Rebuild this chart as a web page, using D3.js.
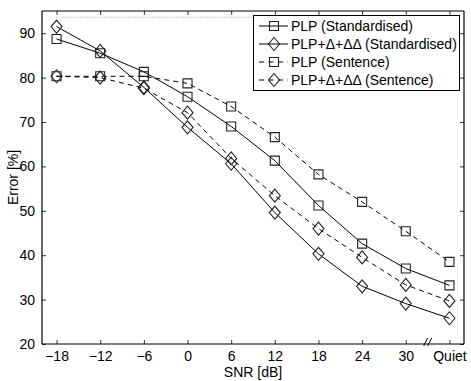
<!DOCTYPE html>
<html>
<head>
<meta charset="utf-8">
<script src="https://cdn.jsdelivr.net/npm/d3@7"></script>
<style>
  body { margin: 0; background: #fff; }
  text { font-family: "Liberation Sans", Arial, sans-serif; fill: #000; }
</style>
</head>
<body>
<script>
// SNR conditions (Quiet drawn at 36 dB, after the axis break)
const snrLabels = ["\u221218", "\u221212", "\u22126", "0", "6", "12", "18", "24", "30", "Quiet"];
const snrPos = [-18, -12, -6, 0, 6, 12, 18, 24, 30, 36];

const plpStd = [88.7, 85.5, 81.3, 75.7, 69.0, 61.3, 51.2, 42.6, 37.0, 33.2];
const plpDStd = [91.5, 86.0, 77.8, 68.8, 60.6, 49.6, 40.3, 33.0, 29.1, 25.8];
const plpSent = [80.3, 80.3, 80.3, 78.7, 73.5, 66.6, 58.2, 52.0, 45.4, 38.5];
const plpDSent = [80.3, 80.0, 77.6, 72.1, 61.8, 53.4, 46.0, 39.5, 33.3, 29.7];

const yTicks = [20, 30, 40, 50, 60, 70, 80, 90];
const refLevel = 93.6; // dotted reference line

const series = [
  { name: "PLP (Standardised)", values: plpStd, marker: "square", dash: null },
  { name: "PLP+\u0394+\u0394\u0394 (Standardised)", values: plpDStd, marker: "diamond", dash: null },
  { name: "PLP (Sentence)", values: plpSent, marker: "square", dash: "5,4" },
  { name: "PLP+\u0394+\u0394\u0394 (Sentence)", values: plpDSent, marker: "diamond", dash: "5,4" }
];

const W = 471, H = 381;
const mLeft = 42, mRight = 464, mTop = 11, mBottom = 344;

const x = d3.scaleLinear().domain([-20, 38]).range([mLeft, mRight]);
const y = d3.scaleLinear().domain([20, 95]).range([mBottom, mTop]);

const svg = d3.select("body").append("svg").attr("width", W).attr("height", H);

// dotted reference line
svg.append("line")
  .attr("x1", x(-18)).attr("x2", x(36))
  .attr("y1", y(refLevel)).attr("y2", y(refLevel))
  .attr("stroke", "#999").attr("stroke-width", 1).attr("stroke-dasharray", "1,2");

function markerPath(type) {
  if (type === "square") return "M-4.5,-4.5H4.5V4.5H-4.5Z";
  return "M0,-6.5L5.5,0L0,6.5L-5.5,0Z";
}

const line = d3.line().x((d, i) => x(snrPos[i])).y(d => y(d));

series.forEach(s => {
  svg.append("path")
    .attr("d", line(s.values))
    .attr("fill", "none")
    .attr("stroke", "#000")
    .attr("stroke-width", 1)
    .attr("stroke-dasharray", s.dash);
  svg.selectAll(null)
    .data(s.values)
    .enter()
    .append("path")
    .attr("d", markerPath(s.marker))
    .attr("transform", (d, i) => `translate(${x(snrPos[i])},${y(d)})`)
    .attr("fill", "none")
    .attr("stroke", "#222")
    .attr("stroke-width", 1.1);
});

// axes box with inward ticks on all sides
const xAxis = d3.axisBottom(x).tickValues(snrPos).tickSize(-4).tickFormat((d, i) => snrLabels[i]).tickPadding(7);
const xTop = d3.axisTop(x).tickValues(snrPos).tickSize(-4).tickFormat("");
const yAxis = d3.axisLeft(y).tickValues(yTicks).tickSize(-4).tickPadding(7);
const yRight = d3.axisRight(y).tickValues(yTicks).tickSize(-4).tickFormat("");

function styleAxis(g) {
  g.select(".domain").attr("stroke", "#000").attr("stroke-width", 1.2);
  g.selectAll(".tick line").attr("stroke", "#000").attr("stroke-width", 0.8);
  g.selectAll("text").style("font-size", "14px").attr("font-family", null);
}

svg.append("g").attr("transform", `translate(0,${mBottom})`).call(xAxis).call(g => {
  g.select(".domain").attr("d", `M${mLeft},0H${mRight}`);
  styleAxis(g);
});
svg.append("g").attr("transform", `translate(0,${mTop})`).call(xTop).call(g => {
  g.select(".domain").attr("d", `M${mLeft},0H${mRight}`);
  styleAxis(g);
});
svg.append("g").attr("transform", `translate(${mLeft},0)`).call(yAxis).call(g => {
  g.select(".domain").attr("d", `M0,${mTop}V${mBottom}`);
  styleAxis(g);
});
svg.append("g").attr("transform", `translate(${mRight},0)`).call(yRight).call(g => {
  g.select(".domain").attr("d", `M0,${mTop}V${mBottom}`);
  styleAxis(g);
});

// axis break mark between 30 and Quiet
const bx = x(33);
[-2, 2].forEach(o => {
  svg.append("line")
    .attr("x1", bx + o - 2).attr("y1", mBottom + 2)
    .attr("x2", bx + o + 2).attr("y2", mBottom - 6)
    .attr("stroke", "#000").attr("stroke-width", 1);
});

// axis labels
svg.append("text")
  .attr("x", (mLeft + mRight) / 2).attr("y", 377)
  .attr("text-anchor", "middle").style("font-size", "14px")
  .text("SNR [dB]");
svg.append("text")
  .attr("transform", `translate(18,${(mTop + mBottom) / 2}) rotate(-90)`)
  .attr("text-anchor", "middle").style("font-size", "14px")
  .text("Error [%]");

// legend
const lg = svg.append("g");
lg.append("rect")
  .attr("x", 253.5).attr("y", 15.5).attr("width", 206).attr("height", 75)
  .attr("fill", "#fff").attr("stroke", "#000").attr("stroke-width", 1);
series.forEach((s, i) => {
  const ly = 26 + i * 18;
  lg.append("line")
    .attr("x1", 259).attr("x2", 288).attr("y1", ly).attr("y2", ly)
    .attr("stroke", "#000").attr("stroke-width", 1)
    .attr("stroke-dasharray", s.dash ? "5,4.5" : null);
  lg.append("path")
    .attr("d", markerPath(s.marker))
    .attr("transform", `translate(274,${ly})`)
    .attr("fill", "none").attr("stroke", "#222").attr("stroke-width", 1.1);
  lg.append("text")
    .attr("x", 291).attr("y", ly + 5)
    .style("font-size", "14px")
    .text(s.name);
});
</script>
</body>
</html>
